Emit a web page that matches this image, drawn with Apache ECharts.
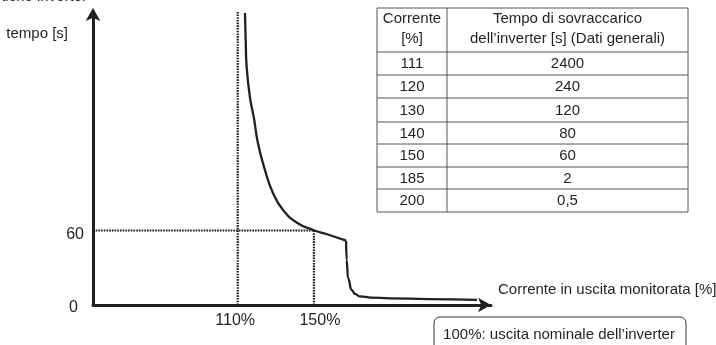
<!DOCTYPE html>
<html>
<head>
<meta charset="utf-8">
<script src="https://cdn.jsdelivr.net/npm/echarts@6/dist/echarts.min.js"></script>
<style>
html,body{margin:0;padding:0;background:#fff;}
#chart{width:716px;height:345px;}
</style>
</head>
<body>
<div id="chart"></div>
<script>
// ---- data ----
var curveMain = [
  [113.8, 235.2], [114.2, 212], [114.7, 191.7], [116.4, 167.5], [118.5, 150.6], [120.6, 130.5],
  [124.3, 108.7], [128.5, 90.2], [133.8, 76.5], [141.1, 66.3], [150, 60.2],
  [156.9, 57.0], [166.9, 51.8]
];
var curveDrop = [
  [166.9, 51.8], [167.2, 36.2], [167.9, 21.7], [169.8, 12.1], [171.6, 8.9],
  [174.2, 6.9], [180, 6.0], [190, 5.4], [210, 4.8], [235.6, 4.2]
];
var refCurrent = [110, 150];        // % marked on x axis
var refTime = [0, 60];              // s marked on y axis
var xRange = [34, 243];
var yRange = [0, 236];
var tableHeadCurrent = ['Corrente', '[%]'];
var tableHeadTime = ['Tempo di sovraccarico', 'dell\u2019inverter [s] (Dati generali)'];
var tableCurrent = ['111', '120', '130', '140', '150', '185', '200'];
var tableTime = ['2400', '240', '120', '80', '60', '2', '0,5'];
var xName = 'Corrente in uscita monitorata [%]';
var yName = 'tempo [s]';
var noteText = '100%: uscita nominale dell\u2019inverter';
var topText = 'Caratteristiche inverter';

// ---- styles ----
var FONT = '"Liberation Sans", Arial, sans-serif';
var INK = '#231f20';

// ---- table graphic built from arrays ----
var tX0 = 377, tX1 = 447, tX2 = 688;
var rowY = [8, 52, 75, 98, 122, 144, 167, 189, 212];
var graphics = [];
graphics.push({type: 'rect', shape: {x: tX0, y: rowY[0], width: tX2 - tX0, height: rowY[rowY.length - 1] - rowY[0]},
  style: {fill: 'none', stroke: '#555', lineWidth: 1}});
graphics.push({type: 'line', shape: {x1: tX1, y1: rowY[0], x2: tX1, y2: rowY[rowY.length - 1]}, style: {stroke: '#555', lineWidth: 1}});
for (var i = 1; i < rowY.length - 1; i++) {
  graphics.push({type: 'line', shape: {x1: tX0, y1: rowY[i], x2: tX2, y2: rowY[i]}, style: {stroke: '#555', lineWidth: 1}});
}
function cellText(txt, cx, cy) {
  return {type: 'text', x: cx, y: cy, style: {text: txt, font: '15px ' + FONT, fill: INK, align: 'center', verticalAlign: 'middle'}};
}
graphics.push(cellText(tableHeadCurrent[0], (tX0 + tX1) / 2, 19));
graphics.push(cellText(tableHeadCurrent[1], (tX0 + tX1) / 2, 39));
graphics.push(cellText(tableHeadTime[0], (tX1 + tX2) / 2, 19));
graphics.push(cellText(tableHeadTime[1], (tX1 + tX2) / 2, 39));
for (var r = 0; r < tableCurrent.length; r++) {
  var cy = (rowY[r + 1] + rowY[r + 2]) / 2 + 0.5;
  graphics.push(cellText(tableCurrent[r], (tX0 + tX1) / 2, cy));
  graphics.push(cellText(tableTime[r], (tX1 + tX2) / 2, cy));
}
// x axis caption
graphics.push({type: 'text', x: 498, y: 290, style: {text: xName, font: '15px ' + FONT, fill: INK, align: 'left', verticalAlign: 'middle'}});
// note box
graphics.push({type: 'rect', shape: {x: 434, y: 317, width: 252, height: 40, r: 6},
  style: {fill: 'none', stroke: '#333', lineWidth: 1}});
graphics.push({type: 'text', x: 559, y: 335, style: {text: noteText, font: '15px ' + FONT, fill: INK, align: 'center', verticalAlign: 'middle'}});
// cut title at very top
graphics.push({type: 'text', x: 87, y: 4.5, style: {text: topText, font: '15px ' + FONT, fill: INK, align: 'right', verticalAlign: 'bottom'}});

var dotted = {color: '#1a1a1a', width: 2.2, type: [1.6, 1.1]};

var chart = echarts.init(document.getElementById('chart'), null, {renderer: 'canvas'});
chart.setOption({
  animation: false,
  backgroundColor: '#fff',
  textStyle: {fontFamily: FONT},
  grid: {left: 93, top: 12, width: 398, height: 293, containLabel: false, outerBoundsMode: 'none'},
  xAxis: {
    type: 'value', min: xRange[0], max: xRange[1],
    axisLine: {show: true, onZero: false, symbol: ['none', 'arrow'], symbolSize: [11, 13], symbolOffset: [0, 0],
      lineStyle: {color: INK, width: 3}},
    axisTick: {show: false},
    splitLine: {show: false},
    axisLabel: {
      customValues: refCurrent, margin: 8, color: INK, fontSize: 16, fontFamily: FONT,
      formatter: function (v) { return v === refCurrent[0] ? '{a|' + v + '%}' : '{b|' + v + '%}'; },
      rich: {a: {fontSize: 16, padding: [0, 5, 0, 0]}, b: {fontSize: 16, padding: [0, 0, 0, 12]}}
    }
  },
  yAxis: {
    type: 'value', min: yRange[0], max: yRange[1],
    name: yName, nameLocation: 'end', nameGap: -22,
    nameTextStyle: {fontSize: 15, color: INK, fontFamily: FONT, align: 'right', verticalAlign: 'middle', padding: [0, 25, 0, 0]},
    axisLine: {show: true, onZero: false, symbol: ['none', 'arrow'], symbolSize: [11, 13], symbolOffset: [0, 4],
      lineStyle: {color: INK, width: 3}},
    axisTick: {show: false},
    splitLine: {show: false},
    axisLabel: {
      customValues: refTime, margin: 9, color: INK, fontSize: 16, fontFamily: FONT,
      formatter: function (v) { return v === 0 ? '{z|' + v + '}' : '{n|' + v + '}'; },
      rich: {z: {fontSize: 16, padding: [6, 6, 0, 0]}, n: {fontSize: 16, padding: [8, 0, 0, 0]}}
    }
  },
  series: [
    {type: 'line', data: [[refCurrent[0], yRange[0]], [refCurrent[0], yRange[1]]], symbol: 'none', lineStyle: dotted, silent: true},
    {type: 'line', data: [[refCurrent[1], refTime[0]], [refCurrent[1], refTime[1]]], symbol: 'none', lineStyle: dotted, silent: true},
    {type: 'line', data: [[xRange[0], refTime[1]], [refCurrent[1], refTime[1]]], symbol: 'none', lineStyle: dotted, silent: true},
    {type: 'line', data: curveMain, smooth: 0.5, symbol: 'none', lineStyle: {color: INK, width: 2.3}},
    {type: 'line', data: curveDrop, smooth: 0.5, smoothMonotone: 'x', symbol: 'none', lineStyle: {color: INK, width: 2.3}}
  ],
  graphic: graphics
});
</script>
</body>
</html>
